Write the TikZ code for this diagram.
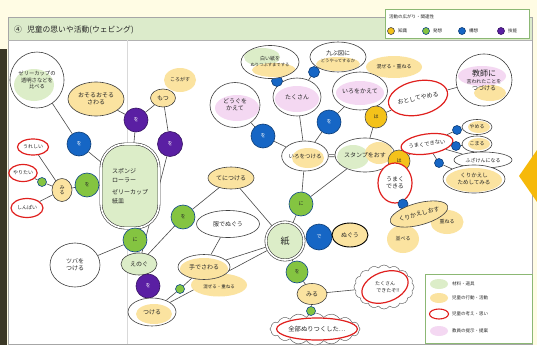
\documentclass[tikz,border=0pt]{standalone}
\usepackage{fontspec}
\newfontfamily\jp{Noto Sans CJK JP}
\usetikzlibrary{shapes.geometric,shapes.symbols}
\pgfdeclarelayer{back}
\pgfdeclarelayer{bg}
\pgfsetlayers{back,bg,main}
\definecolor{cream}{HTML}{FFFCE4}
\definecolor{strip}{HTML}{3B3826}
\definecolor{hdr}{HTML}{DCEBCB}
\definecolor{ylw}{HTML}{FBE3A0}
\definecolor{pgr}{HTML}{DCEDC8}
\definecolor{pnk}{HTML}{F4D8F2}
\definecolor{gcf}{HTML}{84C441}
\definecolor{bcf}{HTML}{1666C5}
\definecolor{pcf}{HTML}{5A1FA3}
\definecolor{ycf}{HTML}{F4C21A}
\definecolor{rd}{HTML}{E0201E}
\definecolor{lncol}{HTML}{4A4A4A}
\definecolor{org}{HTML}{F6B90A}
\definecolor{lgb}{HTML}{8CB874}
\newcommand\myblob[5]{\fill[#1] ([shift={(#2pt,#3pt)}]path picture bounding box.center) ellipse (#4pt and #5pt);}
\tikzset{
 every node/.style={font=\jp\fontsize{6}{7}\selectfont, inner sep=0pt, align=center, text=black!85},
 el/.style={ellipse, draw=black!75, line width=0.6pt},
 wn/.style={el, fill=white},
 yn/.style={el, fill=ylw},
 gn/.style={el, fill=pgr},
 rn/.style={ellipse, draw=rd, line width=1.2pt, fill=white},
 yb/.style={ellipse, fill=ylw},
 cc/.style={circle, minimum size=#1pt, line width=0.6pt, font=\jp\fontsize{5}{6}\selectfont},
 gc/.style={cc=#1, fill=gcf, draw=bcf!70!black},
 bc/.style={cc=#1, fill=bcf, draw=bcf!60!black, text=white},
 pc/.style={cc=#1, fill=pcf, draw=pcf!60!black, text=white},
 yc/.style={cc=#1, fill=ycf, draw=black!70},
 conn/.style={draw=lncol, line width=0.6pt},
 sz/.style 2 args={minimum width=#1pt, minimum height=#2pt},
 small/.style={font=\jp\fontsize{5}{6}\selectfont},
 tiny/.style={font=\jp\fontsize{4.5}{5}\selectfont},
 cld/.style={cloud, cloud puffs=16, cloud puff arc=110, cloud ignores aspect, draw=black!60, line width=0.5pt, fill=white},
}
\begin{document}
\begin{tikzpicture}[x=1pt,y=-1pt]
\useasboundingbox (0,0) rectangle (537,345);
\begin{pgfonlayer}{back}
\fill[cream] (0,0) rectangle (537,345);
\fill[white] (8,17) rectangle (532,344);
\fill[hdr] (8,18) rectangle (532,40);
\draw[black!35, line width=0.5pt] (8,17) rectangle (532,344);
\draw[black!30, line width=0.5pt] (8,40) -- (532,40);
\draw[black!15, line width=0.6pt] (127,40) -- (127,344);
\fill[strip] (0,49) rectangle (7,345);
\fill[org] (537,150) -- (519,176) -- (537,202) -- cycle;
\end{pgfonlayer}

% header and legends
\node[anchor=west, font=\jp\fontsize{7.8}{8}\selectfont] (title) at (14,30) {④\hspace{5pt}児童の思いや活動(ウェビング)};
\node[draw=lgb, fill=white, line width=0.6pt, minimum width=144pt, minimum height=29pt, anchor=north west] (leg1) at (385,9) {};
\node[anchor=west, tiny] (lt) at (389,17) {活動の広がり・関連性};
\node[yc=7] (lc1) at (391,31) {};
\node[anchor=west, tiny] (lt1) at (398,31) {知識};
\node[gc=7] (lc2) at (426,31) {};
\node[anchor=west, tiny] (lt2) at (433,31) {発想};
\node[bc=7] (lc3) at (462,31) {};
\node[anchor=west, tiny] (lt3) at (469,31) {構想};
\node[pc=7] (lc4) at (501,31) {};
\node[anchor=west, tiny] (lt4) at (508,31) {技能};

\node[draw=lgb, fill=white, line width=0.8pt, minimum width=107pt, minimum height=69pt, anchor=north west] (leg2) at (425,274) {};
\node[ellipse, fill=pgr, sz={18}{10}] (lg1) at (439,284) {};
\node[anchor=west, tiny] (lgt1) at (452,284) {材料・道具};
\node[ellipse, fill=ylw, sz={18}{10}] (lg2) at (439,298) {};
\node[anchor=west, tiny] (lgt2) at (452,298) {児童の行動・活動};
\node[ellipse, draw=rd, line width=1.1pt, sz={19}{10}] (lg3) at (439,314) {};
\node[anchor=west, tiny] (lgt3) at (452,314) {児童の考え・思い};
\node[ellipse, fill=pnk, sz={18}{10}] (lg4) at (439,331) {};
\node[anchor=west, tiny] (lgt4) at (452,331) {教員の提示・提案};

% left cluster
\node[wn, sz={54}{56}, font=\jp\fontsize{5.3}{6.5}\selectfont, path picture={\myblob{pgr}{-3}{-5}{20}{16}}] (n1) at (37,80) {ゼリーカップの\\透明さなどを\\比べる};
\node[yn, sz={56}{34}] (n2) at (96,99) {おそるおそる\\さわる};
\node[yb, sz={32}{24}, small] (n4) at (180,80) {ころがす};
\node[yn, sz={25}{18}] (n3) at (163,98) {もつ};
\node[pc=24] (p1) at (136,120) {を};
\node[pc=25] (p2) at (170,144) {を};
\node[bc=24] (b1) at (79,144) {を};
\node[draw=black!75, line width=0.6pt, double=white, double distance=1.6pt, fill=pgr, rounded corners=24pt, sz={58}{84}, align=left, font=\jp\fontsize{6}{9}\selectfont] (sp) at (130,186) {スポンジ\\ローラー\\[3pt]ゼリーカップ\\紙皿};
\node[gc=24] (g1) at (87,185) {を};
\node[el, fill=ylw, sz={20}{23}, font=\jp\fontsize{5}{5.5}\selectfont] (y1) at (62,190) {み\\る};
\node[gc=9] (d1) at (42,182) {};
\node[rn, sz={31}{16}, small] (r1) at (33,147) {うれしい};
\node[rn, sz={28}{17}, small] (r2) at (23,173) {やりたい};
\node[rn, sz={32}{19}, small] (r3) at (27,208) {しんぱい};
\node[gc=24] (g2) at (135,240) {に};
\node[wn, sz={50}{44}] (n5) at (75,265) {ツバを\\つける};
\node[gn, sz={36}{22}] (n6) at (139,264) {えのぐ};
\node[pc=24] (p3) at (148,286) {を};
\node[wn, sz={48}{28}, path picture={\myblob{ylw}{2}{-2}{18}{10}}] (n7) at (152,312) {つける};

% middle
\node[gc=24] (g3) at (183,217) {を};
\node[yn, sz={46}{22}] (n8) at (231,178) {てにつける};
\node[wn, sz={63}{27}] (n9) at (228,224) {服でぬぐう};
\node[yb, sz={56}{23}, tiny] (mz1) at (219,285) {\\[2pt]混ぜる・重ねる};
\node[wn, sz={52}{25}, path picture={\myblob{ylw}{0}{-2}{24}{11}}] (n10) at (204,267) {手でさわる};
\node[gc=9] (d2) at (180,289) {};
\node[circle, draw=black!75, line width=0.6pt, double=white, double distance=1.6pt, fill=pgr, minimum size=38pt, font=\jp\fontsize{9}{10}\selectfont] (kami) at (285,241) {紙};
\node[gc=24] (g4) at (301,204) {に};
\node[bc=26] (b2) at (319,237) {で};
\node[yn, sz={36}{24}, line width=0.9pt, draw=black] (n11) at (350,235) {ぬぐう};
\node[gc=22] (g5) at (297,272) {を};
\node[yn, sz={30}{21}] (n12) at (312,294) {みる};
\node[cld, sz={90}{32}] (c1) at (315,329) {};
\node[rn, sz={74}{22}, font=\jp\fontsize{6.3}{7}\selectfont] (c1r) at (317,329) {全部ぬりつくした…};
\node[gc=9] (d3) at (311,311) {};
\node[cld, sz={60}{44}] (c2) at (384,287) {};
\node[rn, sz={48}{30}, rotate=20] (c2r) at (385,287) {};
\node[font=\jp\fontsize{5}{7.5}\selectfont] (c2t) at (385,287) {たくさん\\\hspace{6pt}できたぞ!!};

% right-middle
\node[wn, sz={44}{30}, font=\jp\fontsize{5.5}{6}\selectfont, path picture={\myblob{ylw}{3}{-2}{16}{10}}] (n13) at (305,156) {いろをつける};
\node[wn, sz={60}{34}, path picture={\myblob{pgr}{-12}{-2}{16}{12}\myblob{ylw}{14}{2}{14}{11}}] (n14) at (365,155) {スタンプをおす};
\node[bc=24] (b3) at (263,136) {を};
\node[wn, sz={50}{45}, path picture={\myblob{pnk}{2}{-3}{22}{13}}] (n15) at (235,105) {どうぐを\\かえて};
\node[wn, sz={48}{38}, path picture={\myblob{pnk}{0}{-2}{22}{13}}] (n16) at (297,97) {たくさん};
\node[bc=11] (d4) at (277,81) {};
\node[bc=11] (d5) at (314,72) {};
\node[wn, sz={58}{33}, small, path picture={\myblob{pgr}{-8}{5}{18}{9}\myblob{ylw}{4}{-8}{22}{7}}] (n17) at (270,62) {白い紙を\\{\fontsize{4.3}{5}\selectfont ぬりつぶすまでする}};
\node[wn, sz={56}{30}, path picture={\myblob{ylw}{0}{-7}{22}{7}}] (n18) at (338,57) {九ぶ図に\\{\fontsize{4.3}{5}\selectfont どうやってするか}};
\node[bc=24] (b4) at (329,122) {を};
\node[yb, sz={56}{22}, small] (mz2) at (394,67) {混ぜる・重ねる};
\node[wn, sz={55}{38}, path picture={\myblob{pnk}{0}{-2}{24}{12}}] (n19) at (360,91) {いろをかえて};
\node[yc=22] (y2) at (376,117) {は};
\node[rn, sz={60}{34}, rotate=12] (r4) at (418,98) {おとしてやめる};
\node[wn, sz={56}{52}, path picture={\myblob{pnk}{-2}{4}{24}{10}\myblob{ylw}{6}{-13}{16}{8}}] (n20) at (484,80) {{\fontsize{8}{9}\selectfont 教師に}\\{\fontsize{5}{6}\selectfont 言われたことを}\\つづける};
\node[yc=22] (y3) at (399,161) {は};
\node[rn, sz={50}{20}, rotate=8, font=\jp\fontsize{5.3}{6}\selectfont] (r5) at (427,144) {うまくできない};
\node[rn, sz={34}{40}] (r6) at (395,183) {うまく\\できる};
\node[bc=10] (d6) at (403,204) {};
\node[yb, sz={32}{28}, small] (nb1) at (403,239) {並べる};
\node[yb, sz={33}{24}, small] (nb2) at (447,222) {重ねる};
\node[yn, sz={58}{22}, rotate=15] (n21) at (419,214) {くりかえしおす};
\node[bc=9] (d7) at (457,130) {};
\node[bc=9] (d8) at (456,146) {};
\node[bc=9] (d9) at (439,163) {};
\node[wn, sz={30}{15}, small, path picture={\myblob{ylw}{2}{0}{11}{6}}] (n22) at (477,127) {やめる};
\node[wn, sz={30}{16}, small, path picture={\myblob{ylw}{2}{0}{11}{6}}] (n23) at (477,144) {こまる};
\node[wn, sz={58}{16}, small] (n24) at (483,160) {ふざけんになる};
\node[wn, sz={62}{28}, font=\jp\fontsize{5.5}{6.5}\selectfont, path picture={\myblob{ylw}{0}{-1}{28}{12}}] (n25) at (474,179) {くりかえし\\ためしてみる};

\begin{pgfonlayer}{bg}
\draw[conn] (n1) -- (b1);
\draw[conn] (b1) -- (sp);
\draw[conn] (r1) -- (y1);
\draw[conn] (r2) -- (d1);
\draw[conn] (d1) -- (y1);
\draw[conn] (r3) -- (y1);
\draw[conn] (y1) -- (g1);
\draw[conn] (g1) -- (sp);
\draw[conn] (p1) -- (n2);
\draw[conn] (p1) -- (n3);
\draw[conn] (p1) -- (sp);
\draw[conn] (n3) -- (p2);
\draw[conn] (p2) -- (n6);
\draw[conn] (sp) -- (g2);
\draw[conn] (g2) -- (n5);
\draw[conn] (g2) -- (n6);
\draw[conn] (n6) -- (p3);
\draw[conn] (p3) -- (n7);
\draw[conn] (g3) -- (n6);
\draw[conn] (g3) -- (n8);
\draw[conn] (n8) -- (kami);
\draw[conn] (n10) -- (n9);
\draw[conn] (n10) -- (kami);
\draw[conn] (n10) -- (d2);
\draw[conn] (d2) -- (n7);
\draw[conn] (n7) -- (kami);
\draw[conn] (kami) -- (g4);
\draw[conn] (g4) -- (n13);
\draw[conn] (g4) -- (n14);
\draw[conn] (kami) -- (b2);
\draw[conn] (b2) -- (n11);
\draw[conn] (kami) -- (g5);
\draw[conn] (g5) -- (n12);
\draw[conn] (n12) -- (d3);
\draw[conn] (n12) -- (c2);
\draw[conn] (n13) -- (b3);
\draw[conn] (b3) -- (n15);
\draw[conn] (n13) -- (n16);
\draw[conn] (n16) -- (d4);
\draw[conn] (d4) -- (n17);
\draw[conn] (n16) -- (d5);
\draw[conn] (d5) -- (n18);
\draw[conn] (n13) -- (b4);
\draw[conn] (b4) -- (n19);
\draw[conn, double=white, double distance=1.8pt] (n13) -- (n14);
\draw[conn] (n14) -- (y2);
\draw[conn] (y2) -- (r4);
\draw[conn] (r4) -- (n20);
\draw[conn] (n14) -- (y3);
\draw[conn] (y3) -- (r5);
\draw[conn] (y3) -- (r6);
\draw[conn] (r6) -- (d6);
\draw[conn] (d6) -- (n21);
\draw[conn] (r5) -- (d7);
\draw[conn] (d7) -- (n22);
\draw[conn] (r5) -- (d8);
\draw[conn] (d8) -- (n23);
\draw[conn] (r5) -- (n24);
\draw[conn] (r5) -- (d9);
\draw[conn] (d9) -- (n25);
\end{pgfonlayer}
\end{tikzpicture}
\end{document}
